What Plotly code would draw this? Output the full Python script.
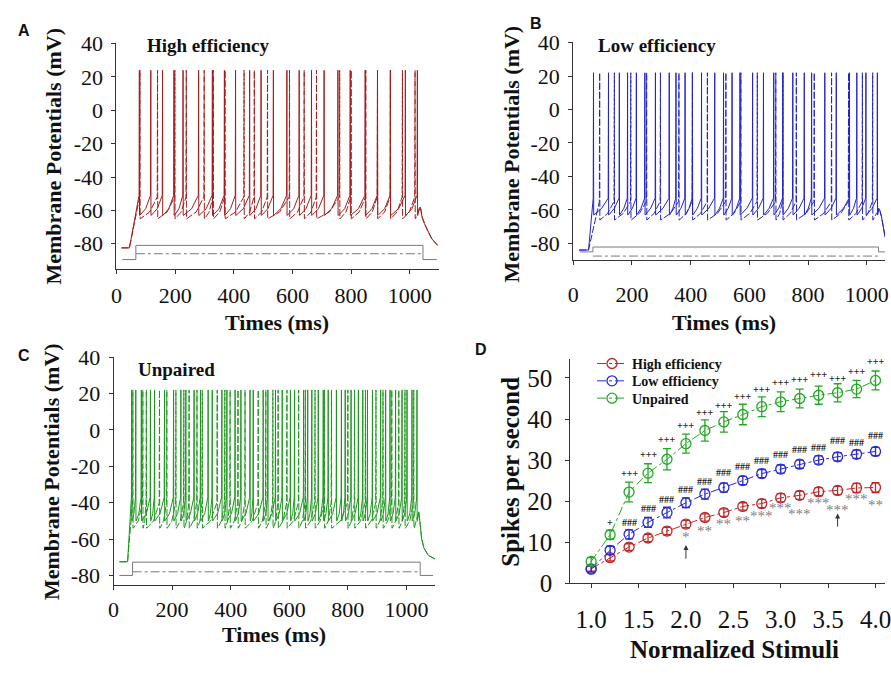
import plotly.graph_objects as go

W, H = 891, 676

# ---------------- Panel A : High efficiency (spike times in ms) ----------------
A_solid_spikes = [78, 117, 157, 196, 227, 280, 327, 368, 406, 454, 493, 535, 581,
                  623, 665, 708, 755, 797, 848, 890, 934, 985, 1026]
A_dash_spikes = [80, 140, 199, 238, 299, 330, 370, 435, 470, 515, 590, 640, 682,
                 761, 800, 850, 890, 934, 975, 1018]
A_decay_t = [1036, 1042, 1050, 1060, 1075, 1095]
A_decay_v = [-58, -64, -68, -72, -77, -81]

# ---------------- Panel B : Low efficiency ----------------
B_solid_spikes = [69, 120, 157, 185, 215, 244, 280, 327, 350, 381, 406, 437, 482,
                  512, 541, 568, 611, 648, 683, 714, 748, 787, 812, 857, 896, 941,
                  966, 997, 1036]
B_dash_spikes = [90, 140, 196, 250, 297, 360, 406, 457, 520, 571, 627, 690, 714,
                 760, 821, 880, 938, 985, 1020]
B_decay_t = [1044, 1050, 1056, 1062, 1070]
B_decay_v = [-60, -64, -70, -76, -80]

# ---------------- Panel C : Unpaired ----------------
C_solid_spikes = [62, 76, 95, 126, 140, 174, 205, 230, 247, 275, 297, 323, 337, 370,
                  387, 415, 435, 466, 477, 511, 527, 553, 576, 604, 618, 649, 663,
                  677, 699, 716, 733, 761, 778, 791, 811, 836, 851, 867, 884, 912,
                  929, 944, 963, 985, 1002, 1019, 1036]
C_dash_spikes = [66, 100, 112, 157, 182, 213, 240, 258, 285, 303, 354, 380, 398, 425,
                 449, 494, 520, 544, 562, 592, 632, 655, 688, 720, 744, 800, 823, 860,
                 896, 920, 950, 974, 995, 1025]
C_decay_t = [1042, 1047, 1052, 1060, 1075, 1098]
C_decay_v = [-45, -52, -60, -65, -69, -71]

# stimulus protocol lines (ms, mV)
A_stim_t = [20, 66, 66, 1045, 1045, 1092]
A_stim_v = [-89.5, -89.5, -81, -81, -89.5, -89.5]
A_stim2_t = [66, 1045]
A_stim2_v = [-86, -86]
B_stim_t = [22, 67, 67, 1040, 1040, 1062]
B_stim_v = [-85.1, -85.1, -82.2, -82.2, -85.1, -85.1]
B_stim2_t = [67, 1045]
B_stim2_v = [-87.6, -87.6]
C_stim_t = [20, 65, 65, 1047, 1047, 1091]
C_stim_v = [-80, -80, -72.7, -72.7, -80, -80]
C_stim2_t = [65, 1047]
C_stim2_v = [-78, -78]

# ---------------- Panel D : spikes per second ----------------
stimuli = [1.0, 1.2, 1.4, 1.6, 1.8, 2.0, 2.2, 2.4, 2.6, 2.8, 3.0, 3.2, 3.4, 3.6, 3.8, 4.0]
high_eff = [3.5, 6.2, 8.8, 11.0, 12.7, 14.4, 16.0, 17.2, 18.7, 19.4, 20.8, 21.4, 22.3, 22.6, 23.2, 23.3]
high_err = [0.6, 0.8, 0.8, 0.9, 0.9, 0.9, 0.9, 0.9, 0.9, 1.0, 1.0, 1.0, 1.0, 1.0, 1.1, 1.2]
low_eff = [3.4, 8.0, 11.9, 14.8, 17.2, 19.6, 21.7, 23.3, 25.0, 26.7, 27.8, 29.0, 30.0, 30.8, 31.4, 32.1]
low_err = [0.7, 1.0, 1.1, 1.2, 1.3, 1.2, 1.2, 1.1, 1.0, 1.0, 1.0, 1.0, 1.0, 1.0, 1.0, 1.0]
unpaired = [5.3, 11.8, 22.2, 26.8, 30.2, 34.0, 37.2, 39.3, 41.1, 43.0, 44.2, 45.0, 45.8, 46.4, 47.3, 49.4]
unp_err = [0.9, 1.1, 2.4, 2.3, 2.6, 2.3, 2.6, 2.5, 2.5, 2.4, 2.4, 2.3, 2.2, 2.2, 2.1, 2.3]

star_x = [2.0, 2.2, 2.4, 2.6, 2.8, 3.0, 3.2, 3.4, 3.6, 3.8, 4.0]
star_y = [11.2, 12.7, 14.3, 15.1, 16.4, 18.2, 16.8, 19.6, 17.9, 20.5, 19.0]
star_txt = ["*", "**", "**", "**", "***", "***", "***", "***", "***", "***", "**"]
hash_x = [1.4, 1.6, 1.8, 2.0, 2.2, 2.4, 2.6, 2.8, 3.0, 3.2, 3.4, 3.6, 3.8, 4.0]
hash_y = [14.9, 18.2, 20.5, 22.9, 24.8, 26.9, 28.5, 30.0, 31.4, 32.6, 33.0, 34.8, 34.3, 36.0]
plus_x = [1.2, 1.4, 1.6, 1.8, 2.0, 2.2, 2.4, 2.6, 2.8, 3.0, 3.2, 3.4, 3.6, 3.8, 4.0]
plus_y = [14.7, 26.8, 31.3, 34.9, 38.5, 41.6, 43.4, 45.5, 47.3, 48.8, 49.6, 50.8, 49.8, 51.7, 53.9]
plus_txt = ["+"] + ["+++"] * 14
arrow_x = [2.0, 3.6]
arrow_tip = [9.3, 17.0]
arrow_tail = [5.6, 13.4]

SERIF = "Liberation Serif, Times New Roman, serif"
SANS = "Liberation Sans, Arial, sans-serif"
RED_T, BLUE_T, GREEN_T = "#a51c1c", "#2424c8", "#1e961e"
GRAY = "#7a7a7a"


def membrane(spikes, t0, t_rise, rest, thr, peak, trough, t_off, dec_t, dec_v):
    xs, ys = [t0, t_rise], [rest, rest]
    prev = None
    for s in spikes:
        if prev is not None:
            xs += [prev + 1.5, prev + 0.55 * (s - prev)]
            ys += [trough, trough + 4]
        xs += [s - 1, s, s + 0.6]
        ys += [thr, peak, trough]
        prev = s
    xs += [prev + 1.5, prev + 0.55 * (t_off - prev)]
    ys += [trough, trough + 4]
    xs += dec_t
    ys += dec_v
    return xs, ys


fig = go.Figure()


def add_panel(ax, color, solid, dash, lv_s, lv_d, dec_t, dec_v, st_t, st_v, st2_t, st2_v):
    xa, ya = ("x" + ax, "y" + ax)
    for t, v, d in [(st_t, st_v, "solid"), (st2_t, st2_v, "dashdot")]:
        fig.add_trace(go.Scatter(x=t, y=v, mode="lines", xaxis=xa, yaxis=ya,
                                 line=dict(color=GRAY, width=1, dash=d), showlegend=False,
                                 hoverinfo="skip"))
    xs, ys = membrane(dash, *lv_d, dec_t, dec_v)
    fig.add_trace(go.Scatter(x=xs, y=ys, mode="lines", xaxis=xa, yaxis=ya,
                             line=dict(color=color, width=1, dash="7px,2px"),
                             showlegend=False, hoverinfo="skip"))
    xs, ys = membrane(solid, *lv_s, dec_t, dec_v)
    fig.add_trace(go.Scatter(x=xs, y=ys, mode="lines", xaxis=xa, yaxis=ya,
                             line=dict(color=color, width=1), showlegend=False,
                             hoverinfo="skip"))


# levels: t0, t_rise, rest, threshold, peak, trough, stimulus-off
add_panel("", RED_T, A_solid_spikes, A_dash_spikes,
          (17, 44, -82.5, -51, 24, -63, 1036), (17, 44, -82.5, -52, 24, -65, 1036),
          A_decay_t, A_decay_v, A_stim_t, A_stim_v, A_stim2_t, A_stim2_v)
add_panel("2", BLUE_T, B_solid_spikes, B_dash_spikes,
          (20, 52, -84, -53, 22, -63, 1044), (20, 52, -84, -55, 22, -66, 1044),
          B_decay_t, B_decay_v, B_stim_t, B_stim_v, B_stim2_t, B_stim2_v)
add_panel("3", GREEN_T, C_solid_spikes, C_dash_spikes,
          (20, 48, -72.5, -37, 22, -50, 1042), (20, 48, -72.5, -40, 22, -54, 1042),
          C_decay_t, C_decay_v, C_stim_t, C_stim_v, C_stim2_t, C_stim2_v)

for name, vals, err, col, lg in [("High efficiency", high_eff, high_err, "#c02828", "legend"),
                                 ("Low efficiency", low_eff, low_err, "#2a2ad8", "legend2"),
                                 ("Unpaired", unpaired, unp_err, "#22a822", "legend3")]:
    fig.add_trace(go.Scatter(
        x=stimuli, y=vals, name="<b>" + name + "</b>", mode="lines+markers",
        xaxis="x4", yaxis="y4", legend=lg,
        line=dict(color=col, width=1, dash="dashdot"),
        marker=dict(symbol="circle-open", size=10, color=col, line=dict(width=1.3, color=col)),
        error_y=dict(type="data", array=err, visible=True, color=col, thickness=1.3, width=4),
        cliponaxis=False))


def px(x):
    return x / W


def py(y):
    return 1 - y / H


tick_font = dict(family=SERIF, size=22, color="#111")
big_font = dict(family=SERIF, size=25, color="#111")
common = dict(showline=True, linecolor="#333", linewidth=1, ticks="outside", ticklen=4,
              tickcolor="#333", showgrid=False, zeroline=False, ticklabeloverflow="allow")
mv_vals = [-80, -60, -40, -20, 0, 20, 40]
mv_txt = ["-80", "-60", "-40", "-20", "0", "20", "40"]
t_vals = [0, 200, 400, 600, 800, 1000]


def leg(ycen):
    return dict(x=px(594), y=py(ycen), xanchor="left", yanchor="middle",
                font=dict(family=SERIF, size=14, color="#111"), bgcolor="rgba(0,0,0,0)",
                itemwidth=30)


fig.update_layout(
    width=W, height=H, margin=dict(l=0, r=0, t=0, b=0),
    paper_bgcolor="white", plot_bgcolor="white",
    xaxis=dict(domain=[px(112), px(439)], range=[0, 1100], anchor="y", tickvals=t_vals,
               ticklabelstandoff=3, tickfont=tick_font, **common),
    yaxis=dict(domain=[py(267), py(32)], range=[-95, 40.5], anchor="x", tickvals=mv_vals,
               ticktext=mv_txt, ticklabelstandoff=4, tickfont=tick_font, **common),
    xaxis2=dict(domain=[px(575), 1], range=[0, 1062], anchor="y2", tickvals=t_vals,
                ticklabelstandoff=11, tickfont=tick_font, **common),
    yaxis2=dict(domain=[py(258), py(31)], range=[-90, 40.5], anchor="x2", tickvals=mv_vals,
                ticktext=mv_txt, ticklabelstandoff=4, tickfont=tick_font, **common),
    xaxis3=dict(domain=[px(109), px(435)], range=[0, 1098], anchor="y3", tickvals=t_vals,
                ticklabelstandoff=1, tickfont=tick_font, **common),
    yaxis3=dict(domain=[py(596), py(359)], range=[-85.3, 40], anchor="x3", tickvals=mv_vals,
                ticktext=mv_txt, ticklabelstandoff=4, tickfont=tick_font, **common),
    xaxis4=dict(domain=[px(572), 1], range=[0.78, 4.1], anchor="y4",
                tickvals=[1.0, 1.5, 2.0, 2.5, 3.0, 3.5, 4.0], tickformat=".1f",
                ticklabelstandoff=10, tickfont=big_font, **common),
    yaxis4=dict(domain=[py(594), py(361)], range=[0, 54.6], anchor="x4",
                tickvals=[0, 10, 20, 30, 40, 50], ticklabelstandoff=8,
                tickfont=big_font, **common),
    legend=leg(366), legend2=leg(384), legend3=leg(402),
)

ann = []


def text(x, y, s, size, family=SERIF, bold=True, angle=0, color="#111"):
    ann.append(dict(x=px(x), y=py(y), xref="paper", yref="paper", text=("<b>%s</b>" % s) if bold else s,
                    showarrow=False, textangle=angle, xanchor="center", yanchor="middle",
                    font=dict(family=family, size=size, color=color)))


# panel letters
for L, x, y in [("A", 18, 19), ("B", 537, 12), ("C", 18, 357), ("D", 481, 351)]:
    text(x, y, L, 16, family=SANS)
# panel titles
text(205, 35, "High efficiency", 19)
text(660, 35, "Low efficiency", 19)
text(173, 372, "Unpaired", 19)
# axis titles
text(48, 150, "Membrane Potentials (mV)", 22, angle=-90)
text(512, 148, "Membrane Potentials (mV)", 22, angle=-90)
text(46, 478, "Membrane Potentials (mV)", 22, angle=-90)
text(275, 323, "Times (ms)", 22)
text(728, 323, "Times (ms)", 22)
text(272, 647, "Times (ms)", 22)
text(511, 478, "Spikes per second", 25, angle=-90)
text(738, 663, "Normalized Stimuli", 25)

for x, y, s in zip(star_x, star_y, star_txt):
    ann.append(dict(x=x, y=y, xref="x4", yref="y4", text=s, showarrow=False,
                    font=dict(family=SERIF, size=15, color="#808080")))
for x, y in zip(hash_x, hash_y):
    ann.append(dict(x=x, y=y, xref="x4", yref="y4", text="<b>###</b>", showarrow=False,
                    font=dict(family=SERIF, size=10, color="#222")))
for x, y, s in zip(plus_x, plus_y, plus_txt):
    ann.append(dict(x=x, y=y, xref="x4", yref="y4", text="<b>%s</b>" % s, showarrow=False,
                    font=dict(family=SERIF, size=10, color="#222")))
for x, tip, tail in zip(arrow_x, arrow_tip, arrow_tail):
    ann.append(dict(x=x, y=tip, ax=x, ay=tail, xref="x4", yref="y4", axref="x4", ayref="y4",
                    text="", showarrow=True, arrowhead=2, arrowsize=1, arrowwidth=1,
                    arrowcolor="#333"))

fig.update_layout(annotations=ann)
fig.write_html("out.html")
